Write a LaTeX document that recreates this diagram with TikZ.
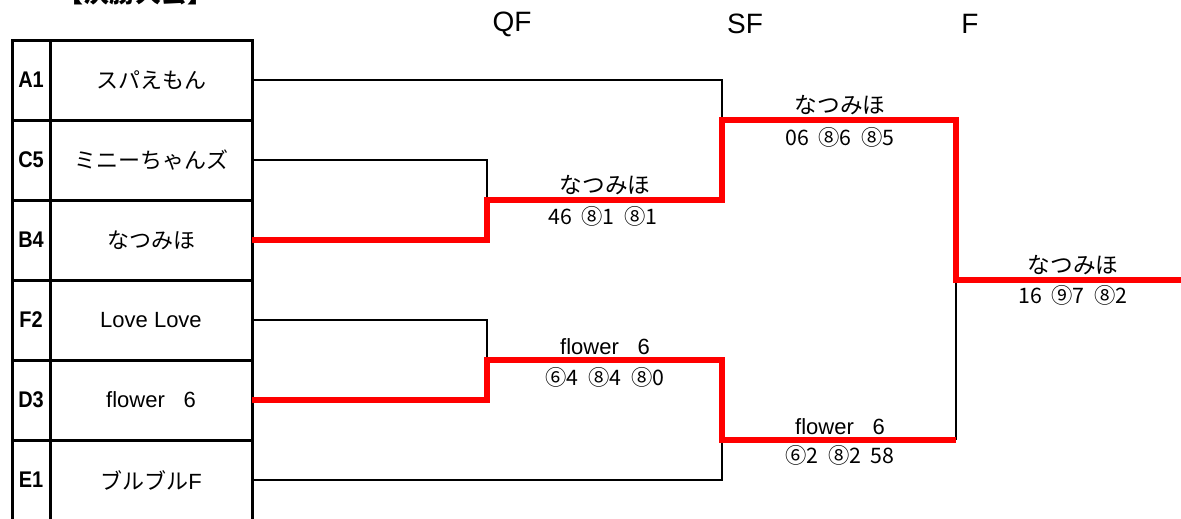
\documentclass[tikz,border=0pt]{standalone}
\usepackage{fontspec}
\setmainfont{Noto Sans CJK JP}
\newfontfamily\lat{Liberation Sans}
\newcommand{\gp}{\hspace{0.45em}}
\begin{document}
\begin{tikzpicture}[x=0.75pt,y=-0.75pt,
  gridline/.style={line width=2.25pt,black},
  bk/.style={line width=1.5pt,black},
  win/.style={line width=4pt,red},
  team/.style={minimum width=151.5pt,minimum height=60pt,inner sep=0pt,font=\fontsize{16.5}{18}\selectfont},
  seed/.style={inner sep=0pt,xscale=0.88,transform shape,font=\lat\bfseries\fontsize{17}{19}\selectfont},
  latteam/.style={team,font=\lat\fontsize{16.5}{18}\selectfont},
  winner/.style={inner sep=0pt,font=\fontsize{17}{19}\selectfont},
  score/.style={inner sep=0pt,font=\fontsize{16}{18}\selectfont},
  round/.style={inner sep=0pt,font=\lat\fontsize{21}{23}\selectfont}]
\useasboundingbox (0,0) rectangle (1181,518);
\clip (0,0) rectangle (1181,518);
% title (cut off at top, as in the reference)
\node[anchor=base,inner sep=0pt,font=\bfseries\fontsize{19.5}{21}\selectfont] (title) at (135,2) {【決勝大会】};
% round headers
\node[round] (hqf) at (512,24) {QF};
\node[round] (hsf) at (745,24) {SF};
\node[round] (hf) at (970,24) {F};
% table grid
\draw[gridline] (12,530) -- (12,40) -- (252,40) -- (252,530);
\draw[gridline] (50,40) -- (50,530);
\foreach \yy in {120,200,280,360,440} \draw[gridline] (12,\yy) -- (252,\yy);
% seeds
\node[seed] (s1) at (31,80) {A1};
\node[seed] (s2) at (31,160) {C5};
\node[seed] (s3) at (31,240) {B4};
\node[seed] (s4) at (31,320) {F2};
\node[seed] (s5) at (31,400) {D3};
\node[seed] (s6) at (31,480) {E1};
% teams
\node[team] (t1) at (151,80) {スパえもん};
\node[team] (t2) at (151,160) {ミニーちゃんズ};
\node[team] (t3) at (151,240) {なつみほ};
\node[latteam] (t4) at (151,320) {Love Love};
\node[latteam] (t5) at (151,400) {flower\hspace{0.85em}6};
\node[team] (t6) at (151,480) {ブルブル{\lat F}};
% junction points
\coordinate (q1) at (487,200);
\coordinate (q1r) at (722,200);
\coordinate (q2) at (487,360);
\coordinate (q2r) at (722,360);
\coordinate (m1) at (722,120);
\coordinate (m1r) at (956,120);
\coordinate (m2) at (722,440);
\coordinate (m2r) at (956,440);
\coordinate (fin) at (956,280);
\coordinate (fend) at (1181,280);
% losers' lines
\draw[bk] (t1.east) -| (m1);
\draw[bk] (t2.east) -| (q1);
\draw[bk] (t4.east) -| (q2);
\draw[bk] (t6.east) -| (m2);
\draw[bk] (m2r) -- (fin);
% winners' lines
\draw[win] (t3.east) -| (q1) -- (q1r) -- (m1) -- (m1r) -- (fin) -- (fend);
\draw[win] (t5.east) -| (q2) -- (q2r) -- (m2) -- (m2r);
% match labels
\node[winner] (w1) at (605,185) {なつみほ};
\node[score] (r1) at (603,216) {46\gp⑧1\gp⑧1};
\node[winner] (w2) at (840,105) {なつみほ};
\node[score] (r2) at (840,137) {06\gp⑧6\gp⑧5};
\node[winner,font=\lat\fontsize{16.5}{18}\selectfont] (w3) at (605,347) {flower\hspace{0.85em}6};
\node[score] (r3) at (605,377) {⑥4\gp⑧4\gp⑧0};
\node[winner,font=\lat\fontsize{16.5}{18}\selectfont] (w4) at (840,427) {flower\hspace{0.85em}6};
\node[score] (r4) at (840,455) {⑥2\gp⑧2\gp58};
\node[winner] (w5) at (1073,265) {なつみほ};
\node[score] (r5) at (1073,295) {16\gp⑨7\gp⑧2};
\end{tikzpicture}
\end{document}
